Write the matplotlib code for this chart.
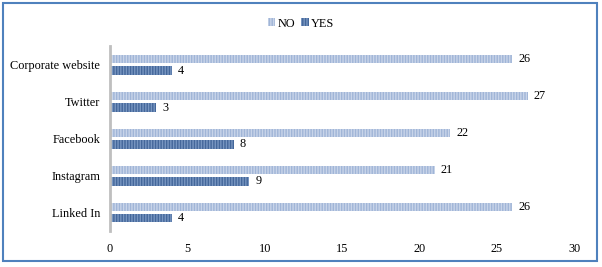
import matplotlib.pyplot as plt
from matplotlib.patches import Rectangle
import numpy as np

plt.rcParams['font.family'] = ['Liberation Serif', 'DejaVu Serif']
plt.rcParams['hatch.linewidth'] = 1.0

categories = ['Corporate website', 'Twitter', 'Facebook', 'Instagram', 'Linked In']
no_vals = [26, 27, 22, 21, 26]
yes_vals = [4, 3, 8, 9, 4]
xticks = [0, 5, 10, 15, 20, 25, 30]

fs = 8.8

fig = plt.figure(figsize=(6.02, 2.67), dpi=100)
ax = fig.add_axes([0.1827, 0.135, 0.7708, 0.691])

y = np.arange(len(categories))
h = 0.23
off = 0.155

b_no = ax.barh(y - off, no_vals, height=h, color='#a0b5d7', edgecolor='#c8d4e9',
               hatch='||||||', linewidth=0, label='NO')
b_yes = ax.barh(y + off, yes_vals, height=h, color='#44679a', edgecolor='#7896c1',
                hatch='||||||', linewidth=0, label='YES')

for bars, vals in ((b_no, no_vals), (b_yes, yes_vals)):
    for bar, v in zip(bars, vals):
        ax.text(bar.get_width() + 0.4, bar.get_y() + bar.get_height() / 2, str(v),
                va='center', ha='left', fontsize=fs)

ax.set_ylim(len(categories) - 0.5, -0.5)
ax.set_xlim(0, 30)
ax.set_yticks(y)
ax.set_yticklabels(categories, fontsize=fs)
ax.set_xticks(xticks)
ax.set_xticklabels([str(t) for t in xticks], fontsize=fs)
ax.tick_params(length=0, pad=7)
ax.tick_params(axis='x', pad=9)

for s in ['top', 'right', 'bottom']:
    ax.spines[s].set_visible(False)
ax.spines['left'].set_color('#bfbfbf')
ax.spines['left'].set_linewidth(2)

fig.legend(loc='upper center', bbox_to_anchor=(0.5, 0.975), ncol=2, frameon=False,
           fontsize=fs, handlelength=0.6, handleheight=0.6, handletextpad=0.2,
           columnspacing=0.5)

fig.patches.append(Rectangle((3 / 602, 6 / 267), 594 / 602, 258 / 267,
                             transform=fig.transFigure, fill=False,
                             edgecolor='#4f81bd', linewidth=1.5))

fig.savefig('out.png', dpi=100)
